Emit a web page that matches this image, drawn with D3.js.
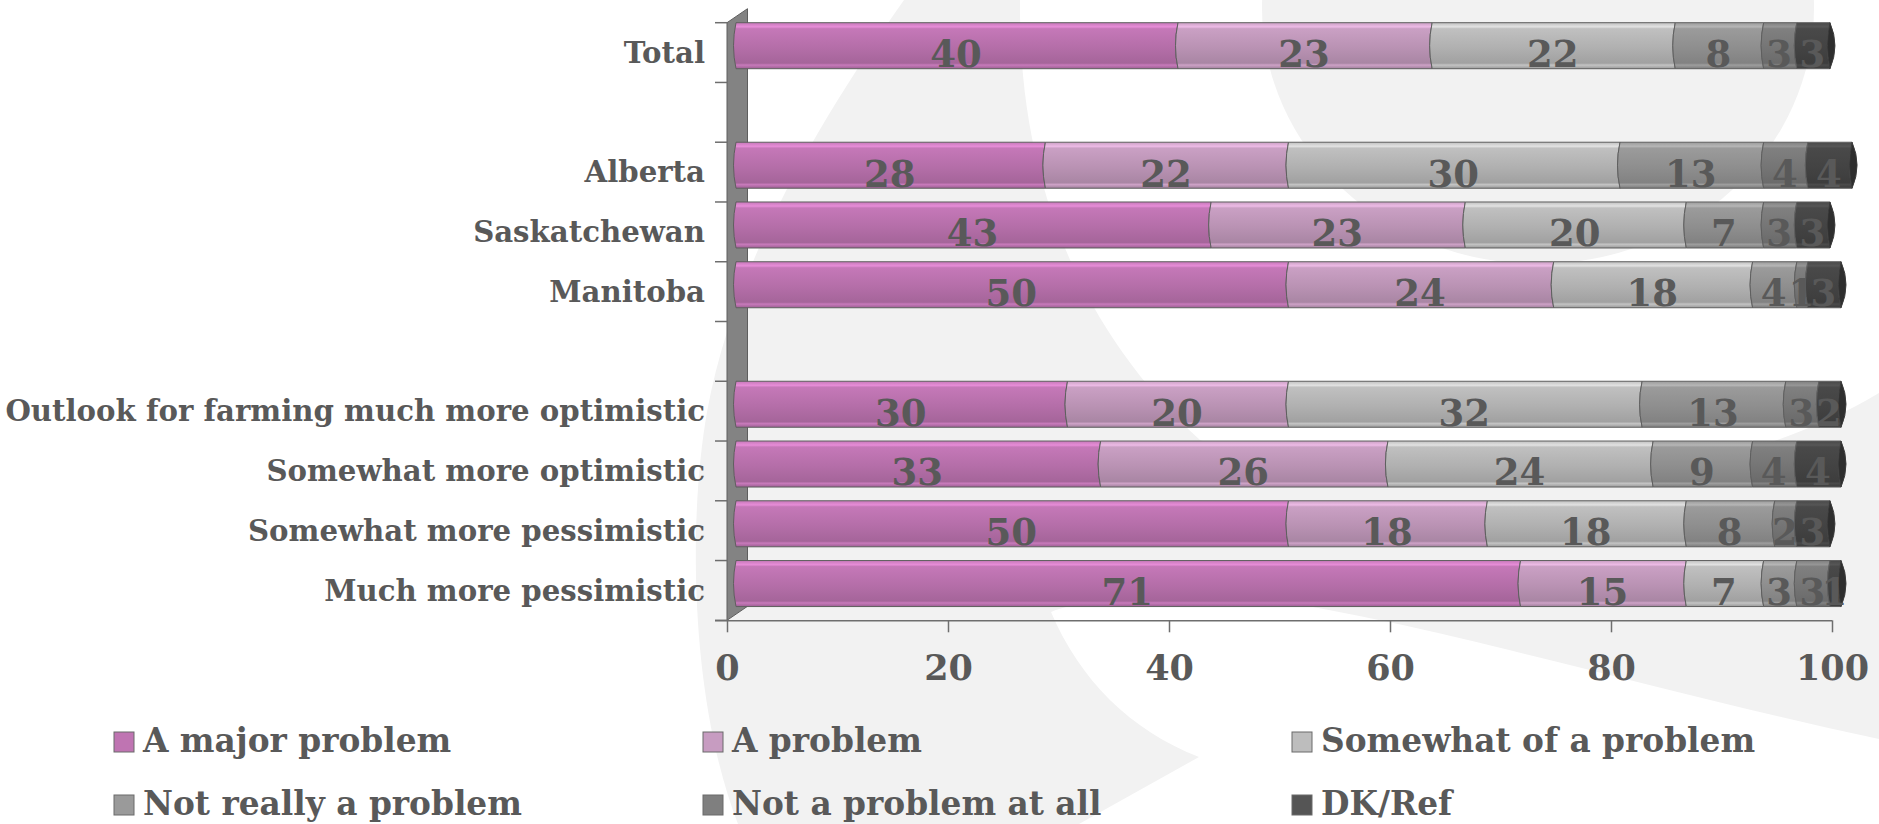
<!DOCTYPE html>
<html>
<head>
<meta charset="utf-8">
<script src="https://cdnjs.cloudflare.com/ajax/libs/d3/7.8.5/d3.min.js"></script>
<style>
  body { margin: 0; background: #fff; }
  svg text { font-family: "DejaVu Serif", Georgia, serif; font-weight: bold; fill: #595959; }
</style>
</head>
<body>
<div id="chart"></div>
<script>
// categories, blank entries are the gaps between groups
const categories = ["Total", "", "Alberta", "Saskatchewan", "Manitoba", "",
  "Outlook for farming much more optimistic", "Somewhat more optimistic",
  "Somewhat more pessimistic", "Much more pessimistic"];

const series = ["A major problem", "A problem", "Somewhat of a problem",
  "Not really a problem", "Not a problem at all", "DK/Ref"];

// values per series (null = gap row)
const majorProblem = [40, null, 28, 43, 50, null, 30, 33, 50, 71];
const aProblem     = [23, null, 22, 23, 24, null, 20, 26, 18, 15];
const somewhat     = [22, null, 30, 20, 18, null, 32, 24, 18, 7];
const notReally    = [8,  null, 13, 7,  4,  null, 13, 9,  8,  3];
const notAtAll     = [3,  null, 4,  3,  1,  null, 3,  4,  2,  3];
const dkRef        = [3,  null, 4,  3,  3,  null, 2,  4,  3,  1];

const xTicks = [0, 20, 40, 60, 80, 100];

const colors = ["#bf74b2", "#c79cc1", "#bdbdbd", "#9a9a9a", "#7f7f7f", "#555555"];
const barColors = ["#b46ea8", "#b992b3", "#b0b0b0", "#8e8e8e", "#757575", "#434343"];

const width = 1879, height = 824;
const depthX = 7;

const svg = d3.select("#chart").append("svg")
  .attr("width", width).attr("height", height);

// background swooshes
const bg = svg.append("g").attr("fill", "#f2f2f2");
bg.append("ellipse").attr("cx", 1538).attr("cy", 8).attr("rx", 276).attr("ry", 256);
bg.append("path").attr("d",
  "M904,0 L1020,0 C1018,180 1080,330 1200,440 C1400,515 1700,500 1879,393 " +
  "L1879,739 C1650,690 1420,620 1260,599 C1150,590 1080,600 1051,612 " +
  "C1080,680 1130,730 1199,757 L1079,824 L738,824 C690,700 688,520 707,412 " +
  "C735,260 820,120 904,0 Z");

const rows = categories.map((c, i) => ({
  idx: i, label: c,
  "A major problem": majorProblem[i] || 0,
  "A problem": aProblem[i] || 0,
  "Somewhat of a problem": somewhat[i] || 0,
  "Not really a problem": notReally[i] || 0,
  "Not a problem at all": notAtAll[i] || 0,
  "DK/Ref": dkRef[i] || 0
}));

const stacked = d3.stack().keys(series)(rows);

const x = d3.scaleLinear().domain([0, 100]).range([727, 1832]);
const y = d3.scaleBand().domain(d3.range(categories.length)).range([22.7, 620.3]);
const barH = y.bandwidth() * 0.77;

// gradients
const defs = svg.append("defs");
barColors.forEach((c, i) => {
  const col = d3.color(c);
  const g = defs.append("linearGradient").attr("id", "grad" + i)
    .attr("x1", 0).attr("y1", 0).attr("x2", 0).attr("y2", 1);
  g.append("stop").attr("offset", "0%").attr("stop-color", col.brighter(0.25));
  g.append("stop").attr("offset", "9%").attr("stop-color", col.brighter(0.7));
  g.append("stop").attr("offset", "13%").attr("stop-color", col.brighter(0.25));
  g.append("stop").attr("offset", "55%").attr("stop-color", col);
  g.append("stop").attr("offset", "88%").attr("stop-color", col.darker(0.25));
  g.append("stop").attr("offset", "92%").attr("stop-color", col.brighter(0.3));
  g.append("stop").attr("offset", "100%").attr("stop-color", col.darker(0.4));
});

// left wall
svg.append("path")
  .attr("d", `M${x(0)},${y.range()[0]} L${x(0) + 20.5},${y.range()[0] - 14} L${x(0) + 20.5},${y.range()[1] - 14} L${x(0)},${y.range()[1]} Z`)
  .attr("fill", "#838383").attr("stroke", "#5e5e5e").attr("stroke-width", 1);

// category ticks
svg.append("g").selectAll("line")
  .data(d3.range(categories.length + 1))
  .join("line")
  .attr("x1", x(0) - 12).attr("x2", x(0))
  .attr("y1", i => y.range()[0] + i * y.step())
  .attr("y2", i => y.range()[0] + i * y.step())
  .attr("stroke", "#6e6e6e").attr("stroke-width", 1.5);

// x axis
const xAxis = d3.axisBottom(x).tickValues(xTicks).tickSizeInner(12).tickSizeOuter(0).tickPadding(23);
const gx = svg.append("g").attr("transform", `translate(0, ${y.range()[1]})`).call(xAxis);
gx.select(".domain").attr("d", `M${x(0) - 12},0.5H${x(100)}`).attr("stroke", "#6e6e6e").attr("stroke-width", 1.5);
gx.selectAll(".tick line").attr("stroke", "#6e6e6e").attr("stroke-width", 1.5);
gx.selectAll(".tick text").style("font-size", "35px").attr("fill", "#595959");

// bars
const segPath = (x0, x1, y0, y1) => {
  const ym = (y0 + y1) / 2;
  return `M${x0 + 2},${y0} L${x1 + 2},${y0} Q${x1 - 3},${ym} ${x1 + 2},${y1} L${x0 + 2},${y1} Q${x0 - 3},${ym} ${x0 + 2},${y0} Z`;
};

const layers = svg.append("g").selectAll("g")
  .data(stacked).join("g")
  .attr("fill", (d, i) => `url(#grad${i})`);

layers.selectAll("path")
  .data(d => d.filter(s => s[1] > s[0]))
  .join("path")
  .attr("d", s => segPath(x(s[0]) + depthX, x(s[1]) + depthX, y(s.data.idx), y(s.data.idx) + barH))
  .attr("stroke", "#5f5f5f").attr("stroke-width", 1);

// end caps
const filled = rows.filter(r => majorProblem[r.idx] !== null);
svg.append("g").selectAll("path")
  .data(filled).join("path")
  .attr("d", r => {
    const tot = d3.sum(series, k => r[k]);
    const xe = x(tot) + depthX + 2, y0 = y(r.idx), y1 = y0 + barH;
    return `M${xe},${y0} Q${xe + 10},${(y0 + y1) / 2} ${xe},${y1} Q${xe - 5},${(y0 + y1) / 2} ${xe},${y0} Z`;
  })
  .attr("fill", "#2e2e2e").attr("stroke", "#3a3a3a");

// value labels
svg.append("g").selectAll("g")
  .data(stacked).join("g")
  .selectAll("text")
  .data(d => d.filter(s => s[1] > s[0]))
  .join("text")
  .attr("x", s => (x(s[0]) + x(s[1])) / 2 + depthX + 1)
  .attr("y", s => y(s.data.idx) + barH / 2)
  .attr("dy", "0.58em")
  .attr("text-anchor", "middle")
  .style("font-size", "37px")
  .text(s => s[1] - s[0]);

// category labels
svg.append("g").selectAll("text")
  .data(rows.filter(r => r.label !== "")).join("text")
  .attr("x", 705)
  .attr("y", r => y(r.idx) + y.bandwidth() / 2)
  .attr("dy", "0.35em")
  .attr("text-anchor", "end")
  .style("font-size", "29.2px")
  .text(r => r.label);

// legend
const legendX = [114, 703, 1292];
const legendY = [732, 795];
const legend = svg.append("g").selectAll("g")
  .data(series).join("g")
  .attr("transform", (d, i) => `translate(${legendX[i % 3]}, ${legendY[Math.floor(i / 3)]})`);
legend.append("rect")
  .attr("width", 20).attr("height", 20)
  .attr("fill", (d, i) => colors[i])
  .attr("stroke", "#6a6a6a").attr("stroke-width", 1);
legend.append("text")
  .attr("x", 29).attr("y", 20)
  .style("font-size", "32.8px")
  .text(d => d);
</script>
</body>
</html>
